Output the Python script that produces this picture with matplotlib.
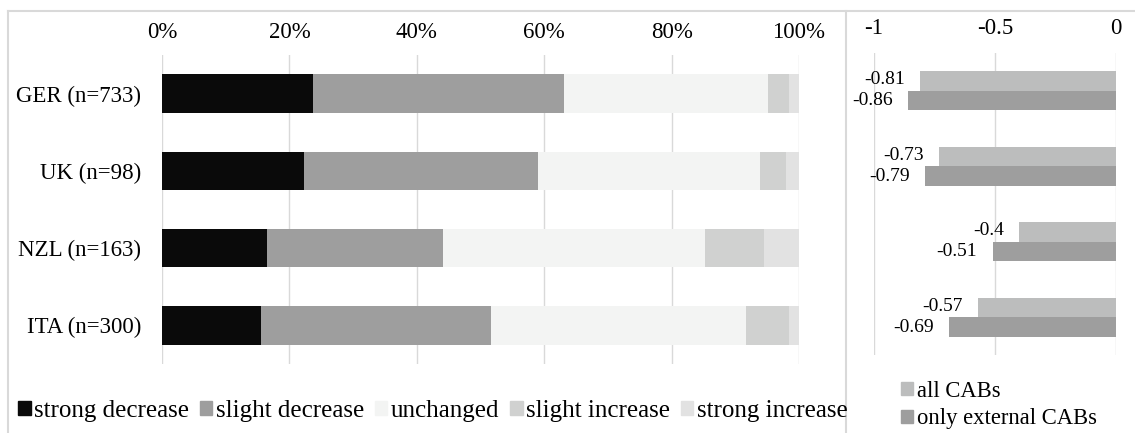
import matplotlib
matplotlib.use('Agg')
import matplotlib.pyplot as plt
from matplotlib.patches import Patch
from matplotlib.lines import Line2D
import numpy as np

plt.rcParams['font.family'] = ['Liberation Serif', 'DejaVu Serif']

countries = ['GER (n=733)', 'UK (n=98)', 'NZL (n=163)', 'ITA (n=300)']
levels = ['strong decrease', 'slight decrease', 'unchanged',
          'slight increase', 'strong increase']
level_colors = ['#0a0a0a', '#9e9e9e', '#f3f4f3', '#d0d1d0', '#e2e2e2']

# percentage shares per country
shares = {
    'strong decrease': [23.7, 22.3, 16.5, 15.6],
    'slight decrease': [39.4, 36.8, 27.6, 36.0],
    'unchanged':       [32.0, 34.8, 41.2, 40.1],
    'slight increase': [3.4, 4.0, 9.2, 6.7],
    'strong increase': [1.5, 2.1, 5.5, 1.6],
}

all_cabs = [-0.81, -0.73, -0.4, -0.57]
external_cabs = [-0.86, -0.79, -0.51, -0.69]

W, H = 1135, 433
fig = plt.figure(figsize=(W / 100, H / 100), dpi=100)

def px_axes(x0, y0, x1, y1):
    return fig.add_axes([x0 / W, 1 - y1 / H, (x1 - x0) / W, (y1 - y0) / H])

grid_color = '#d9d9d9'

# left panel: stacked shares
ax = px_axes(162, 55, 799, 364)
ypos = np.arange(len(countries))
left = np.zeros(len(countries))
for lvl, col in zip(levels, level_colors):
    vals = np.array(shares[lvl])
    ax.barh(ypos, vals, left=left, height=0.5, color=col, zorder=2)
    left += vals
ax.set_xlim(0, 100)
ax.set_ylim(len(countries) - 0.5, -0.5)
ax.set_xticks(range(0, 101, 20))
ax.set_xticklabels([f'{v}%' for v in range(0, 101, 20)])
ax.set_yticks(ypos)
ax.set_yticklabels(countries)
ax.tick_params(axis='x', top=True, labeltop=True, bottom=False,
               labelbottom=False, length=0, pad=8.5, labelsize=16.5)
ax.tick_params(axis='y', length=0, pad=15, labelsize=16.5)
ax.grid(axis='x', color=grid_color, linewidth=1, zorder=0)
ax.set_axisbelow(True)
for s in ax.spines.values():
    s.set_visible(False)

# right panel: mean change
ax2 = px_axes(874, 53, 1116, 355)
bh = 0.26
ax2.barh(ypos - bh / 2, all_cabs, height=bh, color='#bcbdbd', zorder=2)
ax2.barh(ypos + bh / 2, external_cabs, height=bh, color='#9e9e9e', zorder=2)
for y, v in zip(ypos, all_cabs):
    ax2.annotate(f'{v:g}', (v, y - bh / 2), xytext=(-11, 1),
                 textcoords='offset points', ha='right', va='center',
                 fontsize=14)
for y, v in zip(ypos, external_cabs):
    ax2.annotate(f'{v:g}', (v, y + bh / 2), xytext=(-11, 0),
                 textcoords='offset points', ha='right', va='center',
                 fontsize=14)
ax2.set_xlim(-1, 0)
ax2.set_ylim(len(countries) - 0.5, -0.5)
ax2.set_xticks([-1, -0.5, 0])
ax2.set_xticklabels(['-1', '-0.5', '0'])
ax2.set_yticks([])
ax2.tick_params(axis='x', top=True, labeltop=True, bottom=False,
                labelbottom=False, length=0, pad=10, labelsize=16.5)
ax2.grid(axis='x', color=grid_color, linewidth=1, zorder=0)
for s in ax2.spines.values():
    s.set_visible(False)

# legends
h1 = [Patch(color=c) for c in level_colors]
fig.legend(h1, levels, loc='center left', bbox_to_anchor=(18 / W, 1 - 411 / H),
           ncol=5, frameon=False, fontsize=18, handlelength=0.5,
           handleheight=0.5, handletextpad=0.15, columnspacing=0.42,
           borderpad=0, borderaxespad=0)
h2 = [Patch(color='#bcbdbd'), Patch(color='#9e9e9e')]
fig.legend(h2, ['all CABs', 'only external CABs'], loc='center left',
           bbox_to_anchor=(901 / W, 1 - 405 / H), ncol=1, frameon=False,
           fontsize=16.3, handlelength=0.55, handleheight=0.55,
           handletextpad=0.15, labelspacing=0.3, borderpad=0,
           borderaxespad=0)

# frame lines
frame = dict(color=grid_color, linewidth=1.5, transform=fig.transFigure)
fig.add_artist(Line2D([8 / W, 1], [1 - 11 / H, 1 - 11 / H], **frame))
fig.add_artist(Line2D([8 / W, 8 / W], [0, 1 - 11 / H], **frame))
fig.add_artist(Line2D([846 / W, 846 / W], [0, 1 - 11 / H], **frame))

fig.savefig('out.png', dpi=100)
